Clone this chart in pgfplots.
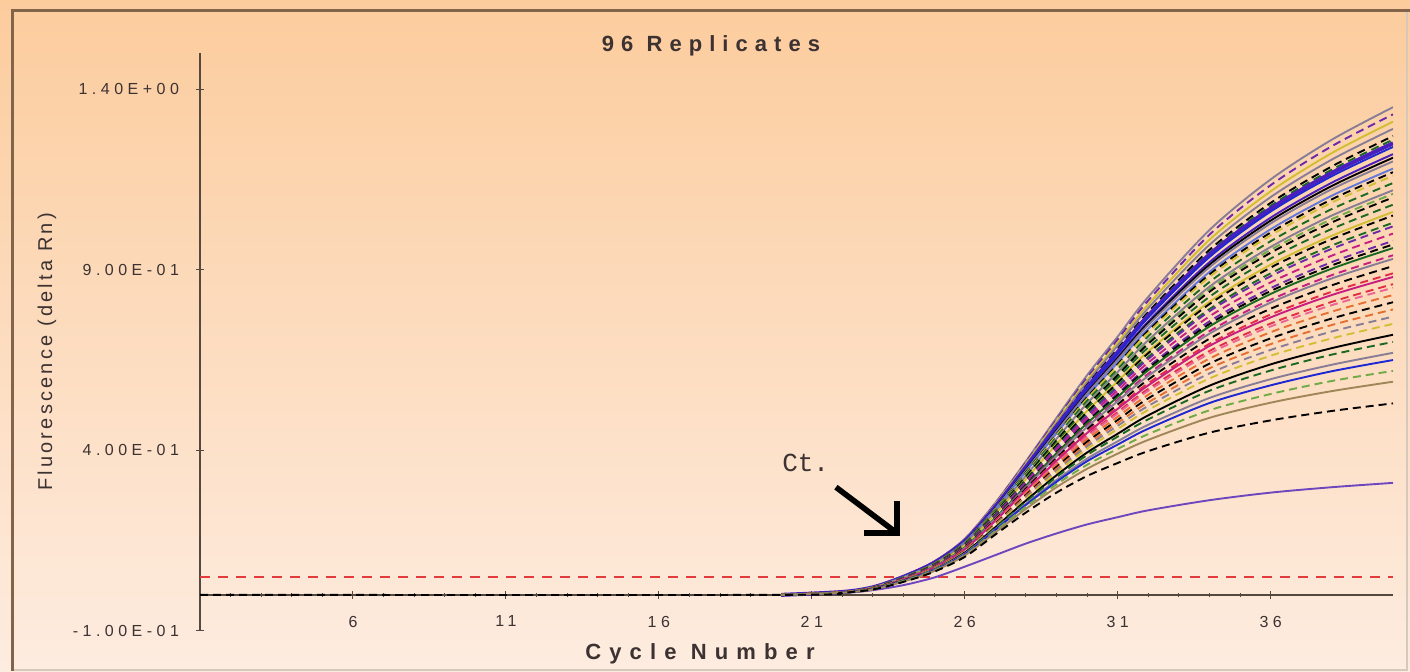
\documentclass[border=0pt]{standalone}
\usepackage{fontspec}
\setmainfont{Liberation Sans}
\newfontfamily\ctfont{Liberation Mono}
\usepackage{pgfplots}
\usepackage{pgfplotstable}
\pgfplotsset{compat=1.18}

\definecolor{bgtop}{RGB}{252,204,157}
\definecolor{bgbot}{RGB}{253,236,224}
\definecolor{framec}{RGB}{130,100,75}
\definecolor{framel}{RGB}{215,200,188}
\definecolor{axc}{RGB}{85,72,62}
\definecolor{txt}{RGB}{60,50,50}
\definecolor{thr}{RGB}{225,60,60}
\definecolor{cgray}{RGB}{135,125,150}
\definecolor{cpurple}{RGB}{110,40,170}
\definecolor{cyellow}{RGB}{210,190,50}
\definecolor{cdgreen}{RGB}{25,105,35}
\definecolor{cviolet}{RGB}{75,30,190}
\definecolor{cblue}{RGB}{30,40,210}
\definecolor{clblue}{RGB}{100,120,220}
\definecolor{clgreen}{RGB}{110,170,70}
\definecolor{cmag}{RGB}{200,30,130}
\definecolor{cred}{RGB}{225,45,70}
\definecolor{cpink}{RGB}{235,100,150}
\definecolor{corange}{RGB}{230,110,50}
\definecolor{ctan}{RGB}{160,135,90}
\definecolor{cout}{RGB}{110,70,190}

\tikzset{
 crv/.style={smooth, line width=0.95pt},
 ds/.style={dash pattern=on 4pt off 2.5pt},
 s1/.style={crv,cgray}, s2/.style={crv,cpurple,ds}, s3/.style={crv,cyellow},
 s4/.style={crv,cgray}, s5/.style={crv,black,ds}, s6/.style={crv,cdgreen,ds},
 s7/.style={crv,cviolet,line width=2pt}, s8/.style={crv,cblue}, s9/.style={crv,cviolet},
 s10/.style={crv,black}, s11/.style={crv,cgray}, s12/.style={crv,clblue},
 s13/.style={crv,black,ds}, s14/.style={crv,cyellow,ds}, s15/.style={crv,cdgreen,ds},
 s16/.style={crv,cgray}, s17/.style={crv,clgreen,ds}, s18/.style={crv,black,ds},
 s19/.style={crv,cdgreen,ds}, s20/.style={crv,cyellow}, s21/.style={crv,black,ds},
 s22/.style={crv,cdgreen,ds}, s23/.style={crv,cpurple,ds}, s24/.style={crv,cmag,ds},
 s25/.style={crv,cpurple,ds}, s26/.style={crv,black,ds}, s27/.style={crv,cdgreen},
 s28/.style={crv,cmag,ds}, s29/.style={crv,cgray}, s30/.style={crv,black,ds},
 s31/.style={crv,cred,ds}, s32/.style={crv,cmag}, s33/.style={crv,cred,ds},
 s34/.style={crv,cpink,ds}, s35/.style={crv,corange,ds}, s36/.style={crv,black,ds},
 s37/.style={crv,corange,ds}, s38/.style={crv,cgray,ds}, s39/.style={crv,cyellow,ds},
 s40/.style={crv,black}, s41/.style={crv,cdgreen,ds}, s42/.style={crv,cgray},
 s43/.style={crv,cblue}, s44/.style={crv,clgreen,ds}, s45/.style={crv,ctan},
 s46/.style={crv,black,ds}, s47/.style={crv,cout}
}

\pgfplotstableread[header=false]{
1 nan nan nan nan nan nan nan nan nan nan nan nan nan nan nan nan nan nan nan nan nan nan nan nan nan nan nan nan nan nan nan nan nan nan nan nan nan nan nan nan nan nan nan nan nan 0 nan
20 0 0 0 0 0 0 0 0 0 0 0 0 0 0 0 0 0 0 0 0 0 0 0 0 0 0 0 0 0 0 0 0 0 0 0 0 0 0 0 0 0 0 0 0 0 0 0
22 0.008 0.008 0.008 0.008 0.008 0.008 0.008 0.008 0.008 0.008 0.008 0.008 0.008 0.007 0.007 0.007 0.007 0.007 0.007 0.007 0.007 0.007 0.007 0.007 0.007 0.007 0.007 0.007 0.007 0.007 0.007 0.007 0.007 0.007 0.007 0.007 0.007 0.007 0.007 0.006 0.006 0.006 0.006 0.006 0.006 0.006 0.005
23 0.022 0.022 0.022 0.021 0.021 0.021 0.021 0.021 0.021 0.021 0.021 0.021 0.020 0.020 0.020 0.020 0.020 0.020 0.020 0.020 0.019 0.019 0.019 0.019 0.019 0.019 0.019 0.018 0.018 0.018 0.018 0.018 0.018 0.018 0.018 0.017 0.017 0.017 0.017 0.017 0.016 0.016 0.016 0.016 0.015 0.015 0.013
24 0.052 0.052 0.051 0.051 0.050 0.050 0.050 0.050 0.050 0.049 0.049 0.049 0.048 0.048 0.048 0.047 0.047 0.047 0.047 0.046 0.046 0.046 0.046 0.045 0.045 0.045 0.044 0.044 0.044 0.043 0.043 0.043 0.042 0.042 0.042 0.041 0.041 0.041 0.040 0.040 0.039 0.039 0.038 0.038 0.037 0.036 0.027
25 0.092 0.091 0.091 0.090 0.089 0.089 0.089 0.088 0.088 0.087 0.087 0.086 0.086 0.086 0.085 0.084 0.084 0.084 0.083 0.082 0.082 0.081 0.081 0.080 0.079 0.079 0.079 0.078 0.078 0.077 0.076 0.076 0.075 0.075 0.074 0.073 0.073 0.072 0.071 0.070 0.070 0.069 0.068 0.067 0.066 0.064 0.048
26 0.155 0.154 0.153 0.151 0.150 0.150 0.149 0.148 0.147 0.146 0.146 0.145 0.144 0.143 0.142 0.141 0.140 0.140 0.139 0.137 0.137 0.136 0.135 0.134 0.132 0.132 0.131 0.130 0.129 0.128 0.127 0.126 0.125 0.124 0.123 0.122 0.121 0.120 0.118 0.117 0.115 0.114 0.112 0.110 0.109 0.105 0.078
27 0.255 0.253 0.251 0.249 0.246 0.245 0.244 0.243 0.241 0.240 0.239 0.237 0.236 0.235 0.233 0.230 0.229 0.228 0.226 0.224 0.223 0.221 0.220 0.217 0.215 0.214 0.213 0.211 0.210 0.208 0.206 0.205 0.202 0.201 0.199 0.197 0.195 0.193 0.191 0.187 0.185 0.182 0.180 0.177 0.173 0.167 0.110
28 0.370 0.367 0.363 0.360 0.356 0.354 0.353 0.351 0.347 0.346 0.344 0.341 0.339 0.337 0.334 0.330 0.328 0.327 0.323 0.320 0.318 0.315 0.313 0.309 0.306 0.304 0.302 0.299 0.297 0.294 0.290 0.289 0.285 0.283 0.280 0.276 0.273 0.270 0.266 0.261 0.257 0.252 0.249 0.244 0.238 0.228 0.142
29 0.490 0.485 0.480 0.475 0.470 0.467 0.465 0.462 0.457 0.455 0.452 0.447 0.444 0.442 0.437 0.432 0.429 0.427 0.422 0.417 0.414 0.409 0.407 0.402 0.397 0.394 0.392 0.387 0.384 0.379 0.374 0.371 0.366 0.364 0.359 0.354 0.349 0.344 0.339 0.331 0.326 0.318 0.313 0.306 0.298 0.283 0.170
30 0.608 0.601 0.594 0.588 0.581 0.577 0.574 0.571 0.564 0.560 0.557 0.550 0.547 0.543 0.537 0.530 0.526 0.523 0.516 0.509 0.506 0.499 0.496 0.489 0.482 0.479 0.475 0.469 0.465 0.458 0.452 0.448 0.441 0.438 0.431 0.424 0.417 0.411 0.404 0.394 0.387 0.377 0.370 0.360 0.349 0.329 0.195
31 0.715 0.707 0.698 0.690 0.681 0.677 0.672 0.668 0.659 0.655 0.651 0.643 0.638 0.634 0.625 0.617 0.612 0.608 0.600 0.591 0.587 0.579 0.574 0.566 0.557 0.553 0.548 0.540 0.536 0.527 0.519 0.515 0.506 0.502 0.493 0.484 0.476 0.468 0.459 0.446 0.438 0.425 0.416 0.404 0.391 0.365 0.215
32 0.825 0.815 0.804 0.794 0.783 0.778 0.773 0.768 0.757 0.752 0.747 0.737 0.731 0.726 0.716 0.705 0.700 0.695 0.685 0.674 0.669 0.659 0.653 0.643 0.632 0.627 0.622 0.612 0.606 0.596 0.586 0.580 0.570 0.565 0.554 0.544 0.533 0.523 0.512 0.497 0.486 0.471 0.460 0.445 0.429 0.398 0.234
34 1.010 0.997 0.983 0.969 0.955 0.948 0.942 0.935 0.921 0.914 0.907 0.894 0.887 0.880 0.866 0.853 0.846 0.839 0.825 0.811 0.805 0.791 0.785 0.771 0.757 0.750 0.743 0.730 0.723 0.709 0.695 0.689 0.675 0.668 0.654 0.640 0.627 0.613 0.599 0.579 0.565 0.545 0.531 0.511 0.490 0.449 0.262
36 1.150 1.134 1.117 1.101 1.085 1.077 1.069 1.061 1.044 1.036 1.028 1.012 1.003 0.995 0.979 0.963 0.955 0.947 0.931 0.914 0.906 0.890 0.882 0.865 0.849 0.841 0.833 0.817 0.809 0.792 0.776 0.768 0.751 0.743 0.727 0.710 0.694 0.678 0.662 0.638 0.621 0.597 0.580 0.556 0.532 0.483 0.283
38 1.260 1.242 1.223 1.205 1.186 1.177 1.168 1.159 1.141 1.132 1.123 1.105 1.095 1.086 1.068 1.050 1.040 1.031 1.013 0.994 0.985 0.967 0.958 0.939 0.921 0.912 0.903 0.885 0.876 0.857 0.839 0.830 0.811 0.802 0.784 0.765 0.747 0.729 0.710 0.683 0.665 0.637 0.619 0.592 0.564 0.509 0.298
40 1.350 1.330 1.310 1.290 1.270 1.260 1.250 1.240 1.220 1.210 1.200 1.180 1.170 1.160 1.140 1.120 1.110 1.100 1.080 1.060 1.050 1.030 1.020 1.000 0.980 0.970 0.960 0.940 0.930 0.910 0.890 0.880 0.860 0.850 0.830 0.810 0.790 0.770 0.750 0.720 0.700 0.670 0.650 0.620 0.590 0.530 0.310
}\curves

\begin{document}
\begin{tikzpicture}
\useasboundingbox (0,0) rectangle (705pt,336pt);
\shade[top color=bgtop, bottom color=bgbot] (0,0) rectangle (705pt,336pt);
\draw[framel, line width=1pt] (703.5pt,330.5pt) -- (703.5pt,1pt) -- (6pt,1pt);
\draw[framec, line width=1.5pt] (6pt,0.5pt) -- (6pt,330.5pt) -- (705pt,330.5pt);
\begin{axis}[
  at={(100pt,20.5pt)}, anchor=south west,
  scale only axis, width=596.5pt, height=289pt,
  xmin=1, xmax=40, ymin=-0.1, ymax=1.5,
  axis y line=left, axis x line=middle,
  axis line style={-, axc, line width=0.8pt},
  xtick={1,6,11,16,21,26,31,36},
  xticklabels={1,6,11,16,21,26,31,36},
  minor x tick num=4,
  ytick={-0.1,0.4,0.9,1.4},
  yticklabels={-1.00E-01,4.00E-01,9.00E-01,1.40E+00},
  tick style={axc, line width=0.5pt},
  major tick length=4pt, minor tick length=2pt,
  tick align=center,
  tick label style={font={\fontsize{8}{9}\selectfont\addfontfeatures{LetterSpace=28}}, text=txt},
  yticklabel style={xshift=-5pt},
  xticklabel style={yshift=-5pt},
]
\addplot[thr, line width=1pt, dash pattern=on 5pt off 4pt] coordinates {(1,0.05) (40,0.05)};
\addplot[s47] table[x index=0, y index=47] {\curves};
\pgfplotsinvokeforeach{1,...,46}{
  \addplot[s#1] table[x index=0, y index=#1] {\curves};
}
\draw[black, line width=2.8pt] (axis cs:21.79,0.298) -- (axis cs:23.72,0.175);
\draw[black, line width=2.8pt, line join=miter] (axis cs:22.71,0.171) -- (axis cs:23.79,0.171) -- (axis cs:23.79,0.259);
\node[text=txt, font={\ctfont\fontsize{13}{14}\selectfont}] at (axis cs:20.8,0.364) {Ct.};
\end{axis}
\node[anchor=base, text=txt, font={\fontsize{11}{13}\selectfont\bfseries\addfontfeatures{LetterSpace=32}}] at (355.5pt,310pt) {96 Replicates};
\node[anchor=base, text=txt, font={\fontsize{11}{13}\selectfont\bfseries\addfontfeatures{LetterSpace=37}}] at (350pt,6pt) {Cycle Number};
\node[rotate=90, text=txt, font={\fontsize{10}{12}\selectfont\addfontfeatures{LetterSpace=16}}] at (23.5pt,160pt) {Fluorescence (delta Rn)};
\end{tikzpicture}
\end{document}
